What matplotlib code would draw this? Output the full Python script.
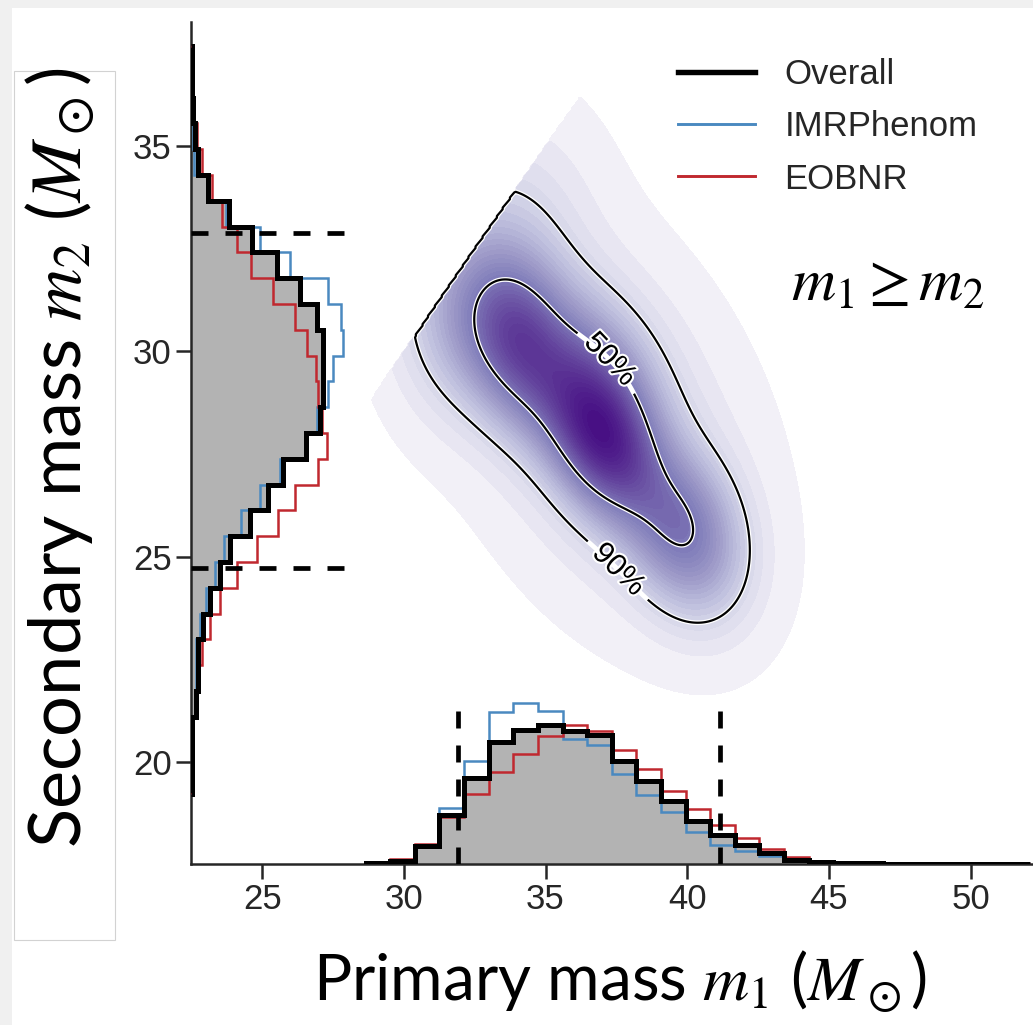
import numpy as np
import matplotlib
matplotlib.use("Agg")
import matplotlib.pyplot as plt
from matplotlib.lines import Line2D
from matplotlib.patches import Rectangle
import matplotlib.patheffects as pe


# -------------------------------------------------------------
# Data
# -------------------------------------------------------------

# Primary mass m1 marginal (histogram), bin edges and heights
m1_edges = 28.65 + 0.8686 * np.arange(28)
m1_overall = [1, 3, 18, 49, 86, 122, 134, 139, 133, 129, 103, 83, 63, 43, 29,
              19, 11, 4, 2, 1, 0.6, 0.4, 0.3, 0.2, 0.2, 0.1, 0.1]
m1_imrphenom = [0.5, 0.5, 18, 56, 103, 152, 161, 153, 125, 119, 90, 69, 52, 32, 19,
                13, 8, 3, 2, 1, 0.5, 0.3, 0.2, 0.2, 0.1, 0.1, 0.1]
m1_eobnr = [1.5, 5, 20, 47, 70, 92, 110, 128, 139, 133, 114, 95, 73, 55, 39,
            26, 15, 7, 3, 1.5, 0.8, 0.5, 0.3, 0.2, 0.2, 0.1, 0.1]

# Secondary mass m2 marginal (histogram), bin edges and widths
m2_edges = 19.22 + 0.6282 * np.arange(30)
m2_overall = [0.5, 0.7, 1, 5, 7, 7, 12, 19, 29, 39, 59, 77, 92, 115, 129, 132, 132, 132,
              126, 109, 86, 61, 38, 17, 7, 4, 2, 1, 0.5]
m2_imrphenom = [0, 0.3, 1, 4, 4.5, 5, 9, 15, 24, 33, 50, 69, 89, 114, 126, 137, 142, 152,
                150, 137, 99, 69, 35, 16, 3, 2, 1, 0.5, 0]
m2_eobnr = [0, 0.3, 0.5, 4, 6, 11, 19, 29, 46, 66, 87, 104, 127, 136, 131, 127, 125, 116,
            104, 82, 60, 46, 31, 21, 11, 6, 3, 1.5, 0.5]

# 90% credible intervals of the overall marginals
m1_interval = [31.9, 41.15]
m2_interval = [24.73, 32.88]

# Joint posterior, described as a few blobs along the ridge
blob_m1 = [32.2, 33.9, 34.3, 37.0, 36.9, 39.9, 37.0, 33.2]
blob_m2 = [30.9, 30.9, 29.8, 27.8, 29.3, 25.6, 28.4, 32.2]
blob_sd_along = [1.4, 1.2, 1.4, 1.5, 1.6, 1.4, 3.4, 1.7]
blob_sd_across = [1.4, 1.1, 1.1, 1.0, 1.1, 1.1, 2.2, 2.1]
blob_weight = [0.06, 0.05, 0.12, 0.20, 0.10, 0.13, 0.17, 0.08]
ridge_angle = -40.0

series_names = ["Overall", "IMRPhenom", "EOBNR"]


# -------------------------------------------------------------
# Figure and axes
# -------------------------------------------------------------
W, H = 1033, 1025
fig = plt.figure(figsize=(W / 100, H / 100), dpi=100)
fig.patch.set_facecolor("#f0f0f0")
fig.patches.append(Rectangle((12 / W, 0), 1, 1 - 8 / H, transform=fig.transFigure,
                             facecolor="white", edgecolor="none", zorder=-10))
fig.patches.append(Rectangle((14 / W, 1 - 940 / H), 101 / W, 869 / H, transform=fig.transFigure,
                             facecolor="none", edgecolor="#d2d2d2", lw=0.8, zorder=-5))

ax = fig.add_axes([191 / W, 1 - 864 / H, (W - 191) / W, (864 - 22) / H])
x0, x1 = 22.49, 52.2
y0, y1 = 17.52, 38.02
ax.set_xlim(x0, x1)
ax.set_ylim(y0, y1)

tick_font = "Liberation Sans"
for s in ["top", "right"]:
    ax.spines[s].set_visible(False)
for s in ["left", "bottom"]:
    ax.spines[s].set_linewidth(1.8)
    ax.spines[s].set_color("#262626")
ax.set_xticks([25, 30, 35, 40, 45, 50])
ax.set_yticks([20, 25, 30, 35])
ax.tick_params(length=11, width=1.8, color="#262626", labelsize=25, labelcolor="#262626", pad=3)
for lab in ax.get_xticklabels() + ax.get_yticklabels():
    lab.set_fontfamily(tick_font)


# -------------------------------------------------------------
# Joint density
# -------------------------------------------------------------
gx = np.linspace(x0, x1, 600)
gy = np.linspace(y0, y1, 500)
X, Y = np.meshgrid(gx, gy)
th = np.deg2rad(ridge_angle)
Z = np.zeros_like(X)
for mx, my, sa, sv, w in zip(blob_m1, blob_m2, blob_sd_along, blob_sd_across, blob_weight):
    du = (X - mx) * np.cos(th) + (Y - my) * np.sin(th)
    dv = -(X - mx) * np.sin(th) + (Y - my) * np.cos(th)
    Z += w / (2 * np.pi * sa * sv) * np.exp(-0.5 * (du**2 / sa**2 + dv**2 / sv**2))
Z[Y > X] = 0.0

# credible levels
zs = np.sort(Z.ravel())[::-1]
cum = np.cumsum(zs) / zs.sum()
lvl90 = zs[np.searchsorted(cum, 0.9)]
lvl50 = zs[np.searchsorted(cum, 0.5)]

n_levels = 40
levels = np.linspace(Z.max() * 0.008, Z.max() * 1.0001, n_levels)
frac = (levels[:-1] / Z.max()) ** 0.6
cols = plt.get_cmap("Purples")(0.05 + 0.91 * frac)
ax.contourf(X, Y, Z, levels=levels, colors=cols, zorder=1)

for lvl, txt, pos in [(lvl90, "90%", (37.6, 24.7)), (lvl50, "50%", (37.8, 30.15))]:
    ax.contour(X, Y, Z, levels=[lvl], colors="white", linewidths=3.4, zorder=3)
    cs = ax.contour(X, Y, Z, levels=[lvl], colors="black", linewidths=1.6, zorder=3)
    labels = ax.clabel(cs, fmt={lvl: txt}, inline=True, inline_spacing=8, fontsize=22,
                       manual=[pos])
    for t in labels:
        t.set_fontfamily(tick_font)
        t.set_path_effects([pe.Stroke(linewidth=3, foreground="white"), pe.Normal()])


# -------------------------------------------------------------
# Marginal histograms
# -------------------------------------------------------------
sx = 1 / 41.07   # m1 histogram height units -> m2 axis units
sy = 1 / 28.32   # m2 histogram width units -> m1 axis units
hist_colors = {"Overall": "black", "IMRPhenom": "#4a89c0", "EOBNR": "#c0282f"}
hist_lw = {"Overall": 3.6, "IMRPhenom": 1.8, "EOBNR": 1.8}

m1_data = dict(zip(series_names, [m1_overall, m1_imrphenom, m1_eobnr]))
m2_data = dict(zip(series_names, [m2_overall, m2_imrphenom, m2_eobnr]))

ax.stairs(y0 + np.array(m1_overall) * sx, m1_edges, baseline=y0, fill=True,
          color="#b3b3b3", zorder=2)
ax.stairs(x0 + np.array(m2_overall) * sy, m2_edges, baseline=x0, fill=True,
          orientation="horizontal", color="#b3b3b3", zorder=2)
for name in ["IMRPhenom", "EOBNR", "Overall"]:
    ax.stairs(y0 + np.array(m1_data[name]) * sx, m1_edges, baseline=y0,
              color=hist_colors[name], lw=hist_lw[name], zorder=4)
    ax.stairs(x0 + np.array(m2_data[name]) * sy, m2_edges, baseline=x0,
              orientation="horizontal", color=hist_colors[name], lw=hist_lw[name], zorder=4)

# 90% intervals
for v in m1_interval:
    ax.plot([v, v], [y0, y0 + 3.82], color="black", lw=3.4, ls=(0, (3.6, 3.6)), zorder=5,
            dash_capstyle="butt")
for v in m2_interval:
    ax.plot([x0, x0 + 5.55], [v, v], color="black", lw=3.4, ls=(0, (3.6, 3.6)), zorder=5,
            dash_capstyle="butt")


# -------------------------------------------------------------
# Legend and labels
# -------------------------------------------------------------
handles = [Line2D([], [], color=hist_colors[n], lw=hist_lw[n] + 0.3) for n in series_names]
leg = fig.legend(handles, series_names, loc="upper left", bbox_to_anchor=(661 / W, 1 - 41 / H),
                 frameon=False, handlelength=2.2, handletextpad=0.85, labelspacing=0.55,
                 borderpad=0, prop={"family": tick_font, "size": 25})
for t in leg.get_texts():
    t.set_color("#262626")

plt.rcParams["mathtext.fontset"] = "stix"
label_font = "Lato"
fig.text(620 / W, 1 - 982 / H, r"Primary mass $m_1$ ($M_\odot$)", ha="center", va="center",
         fontsize=46, family=label_font)
fig.text(60 / W, 1 - 457 / H, r"Secondary mass $m_2$ ($M_\odot$)", ha="center", va="center",
         rotation=90, fontsize=52, family=label_font)
fig.text(888 / W, 1 - 284 / H, r"$m_1 \geq m_2$", ha="center", va="center", fontsize=44)

fig.savefig("out.png", dpi=100, facecolor=fig.get_facecolor())
